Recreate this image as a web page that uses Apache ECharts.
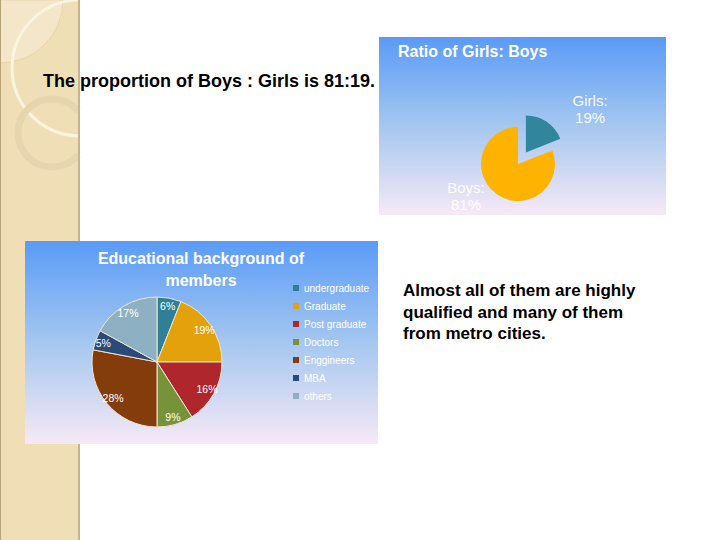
<!DOCTYPE html>
<html><head><meta charset="utf-8">
<script src="https://cdn.jsdelivr.net/npm/echarts@6/dist/echarts.min.js"></script>
<style>html,body{margin:0;padding:0;background:#fff}#c{width:720px;height:540px}</style>
</head><body><div id="c"></div>
<script>
// ---- data ----
const genderNames = ['Girls', 'Boys'];
const genderValues = [19, 81];
const eduNames = ['undergraduate', 'Graduate', 'Post graduate', 'Doctors', 'Enggineers', 'MBA', 'others'];
const eduValues = [6, 19, 16, 9, 28, 5, 17];
const slideText1 = 'The proportion of Boys : Girls is 81:19.';
const slideText2 = 'Almost all of them are highly\nqualified and many of them\nfrom metro cities.';
const title1 = 'Ratio of Girls: Boys';
const title2 = 'Educational background of\nmembers';

// ---- styles ----
const genderColors = ['#31859c', '#fdb300'];
const eduColors = ['#2f7f97', '#e3a20c', '#b0262d', '#77933a', '#843c0c', '#2c4a78', '#8db1c2'];
const genderLabelPos = [[547, 97], [466, 196]];
const FONT = 'Liberation Sans, Arial, sans-serif';

const chart = echarts.init(document.getElementById('c'), null, {renderer: 'svg', width: 720, height: 540});

function bgGradient() {
  return {type: 'linear', x: 0, y: 0, x2: 0, y2: 1, colorStops: [
    {offset: 0, color: '#5a9bf7'},
    {offset: 0.5, color: '#a5c7f0'},
    {offset: 1, color: '#f6e9f6'}
  ]};
}

chart.setOption({
  animation: false,
  graphic: [
    {type: 'rect', z: -10, shape: {x: 0, y: 0, width: 79, height: 540}, style: {fill: '#f0dfb6'}},
    {type: 'sector', z: -9, shape: {cx: 0, cy: 0, r: 63, startAngle: 0, endAngle: Math.PI / 2}, style: {fill: '#f4e7c9', stroke: '#dcc9a0', lineWidth: 0.6}},
    {type: 'arc', z: -8, shape: {cx: 80, cy: 68, r: 68, startAngle: 1.6, endAngle: 4.68, clockwise: true}, style: {stroke: '#fbf4de', lineWidth: 3, fill: null}},
    {type: 'arc', z: -8, shape: {cx: 52, cy: 133, r: 34, startAngle: 0.7, endAngle: 2 * Math.PI - 0.7, clockwise: true}, style: {stroke: '#e6d5ae', lineWidth: 7, fill: null}},
    {type: 'rect', z: -7, shape: {x: 78, y: 0, width: 2, height: 540}, style: {fill: '#c8b48c'}},
    {type: 'rect', z: -7, shape: {x: 0, y: 0, width: 1, height: 540}, style: {fill: '#b8a27a'}},
    {type: 'rect', z: -5, shape: {x: 379, y: 37, width: 287, height: 178}, style: {fill: bgGradient()}},
    {type: 'rect', z: -5, shape: {x: 25, y: 241, width: 353, height: 203}, style: {fill: bgGradient()}},
    {type: 'text', z: 5, style: {x: 43, y: 81, text: slideText1, font: 'bold 18px ' + FONT, fill: '#000', verticalAlign: 'middle'}},
    {type: 'text', z: 5, style: {x: 403, y: 280, text: slideText2, font: 'bold 17px ' + FONT, fill: '#000', lineHeight: 21.5, verticalAlign: 'top'}},
    {type: 'text', z: 5, style: {x: 398, y: 51, text: title1, font: 'bold 16px ' + FONT, fill: '#fff', verticalAlign: 'middle'}},
    {type: 'text', z: 5, style: {x: 201, y: 247, text: title2, font: 'bold 16px ' + FONT, fill: '#fff', align: 'center', lineHeight: 22, verticalAlign: 'top'}}
  ],
  legend: {
    orient: 'vertical', left: 288, top: 278, itemGap: 8, itemWidth: 6, itemHeight: 6, icon: 'rect',
    data: eduNames,
    itemStyle: {borderWidth: 0},
    textStyle: {color: '#fff', fontSize: 10, fontFamily: FONT},
    selectedMode: false
  },
  series: [
    {
      type: 'pie', name: 'gender', center: [518, 164], radius: 37, startAngle: 90, clockwise: true,
      selectedMode: 'single', selectedOffset: 14,
      data: genderNames.map((n, i) => ({name: n, value: genderValues[i], selected: i === 0, itemStyle: {color: genderColors[i]}})),
      label: {show: true, position: 'outside', formatter: p => p.name + ':\n' + p.value + '%', color: 'rgba(255,255,255,0.95)', fontSize: 15, fontFamily: FONT, lineHeight: 17, align: 'center'},
      labelLine: {show: false},
      labelLayout: p => ({x: genderLabelPos[p.dataIndex][0], y: genderLabelPos[p.dataIndex][1], align: 'center', verticalAlign: 'middle'}),
      emphasis: {disabled: true}, silent: true
    },
    {
      type: 'pie', name: 'edu', center: [157, 362], radius: 65, startAngle: 90, clockwise: true,
      data: eduNames.map((n, i) => ({name: n, value: eduValues[i], itemStyle: {color: eduColors[i]}})),
      itemStyle: {borderColor: '#efe6d2', borderWidth: 1},
      label: {show: false}, labelLine: {show: false},
      emphasis: {disabled: true}, silent: true
    },
    {
      type: 'pie', name: 'eduLabels', center: [157, 362], radius: [43, 65], startAngle: 90, clockwise: true,
      data: eduNames.map((n, i) => ({name: n, value: eduValues[i], itemStyle: {color: 'rgba(0,0,0,0)'}})),
      itemStyle: {borderWidth: 0},
      label: {show: true, position: 'inside', formatter: '{c}%', color: '#fff', fontSize: 10.5, fontFamily: FONT},
      labelLine: {show: false},
      emphasis: {disabled: true}, silent: true, z: 3
    }
  ]
});
</script></body></html>
